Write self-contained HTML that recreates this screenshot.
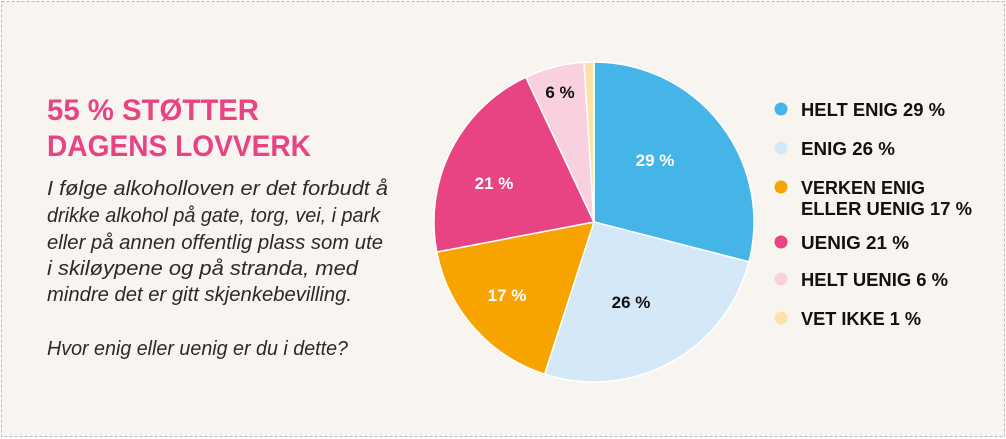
<!DOCTYPE html>
<html><head><meta charset="utf-8"><style>
html,body{margin:0;padding:0;background:#fff}
svg{display:block}
</style></head><body>
<svg width="1006" height="439" xmlns="http://www.w3.org/2000/svg" font-family="Liberation Sans, sans-serif">
<rect x="1.5" y="1.5" width="1003" height="435" fill="#f8f5f1" stroke="#b8b8b8" stroke-dasharray="3,2"/>
<g font-weight="bold" fill="#e84383" font-size="30">
<text x="47" y="120" textLength="212" lengthAdjust="spacingAndGlyphs">55 % STØTTER</text>
<text x="47" y="156" textLength="264" lengthAdjust="spacingAndGlyphs">DAGENS LOVVERK</text>
</g>
<g font-style="italic" fill="#2a2a2a" font-size="20">
<text x="47" y="195" textLength="341" lengthAdjust="spacingAndGlyphs">I følge alkoholloven er det forbudt å</text>
<text x="47" y="222" textLength="333" lengthAdjust="spacingAndGlyphs">drikke alkohol på gate, torg, vei, i park</text>
<text x="47" y="249" textLength="336" lengthAdjust="spacingAndGlyphs">eller på annen offentlig plass som ute</text>
<text x="47" y="275" textLength="311" lengthAdjust="spacingAndGlyphs">i skiløypene og på stranda, med</text>
<text x="47" y="301" textLength="305" lengthAdjust="spacingAndGlyphs">mindre det er gitt skjenkebevilling.</text>
<text x="47" y="355" textLength="301" lengthAdjust="spacingAndGlyphs">Hvor enig eller uenig er du i dette?</text>
</g>
<g stroke="#fff" stroke-width="1.5">
<path d="M594,222 L594,62 A160,160 0 0 1 748.97,261.8 Z" fill="#45b5e8"/>
<path d="M594,222 L748.97,261.8 A160,160 0 0 1 544.6,374.2 Z" fill="#d4e8f8"/>
<path d="M594,222 L544.6,374.2 A160,160 0 0 1 436.8,252 Z" fill="#f7a300"/>
<path d="M594,222 L436.8,252 A160,160 0 0 1 525.9,77.2 Z" fill="#e84383"/>
<path d="M594,222 L525.9,77.2 A160,160 0 0 1 584,62.3 Z" fill="#f9d0de"/>
<path d="M594,222 L584,62.3 A160,160 0 0 1 594,62 Z" fill="#fce1a8"/>
</g>
<g font-weight="bold" font-size="17" text-anchor="middle">
<text x="655" y="166" fill="#fff">29 %</text>
<text x="631" y="308" fill="#111">26 %</text>
<text x="507" y="301" fill="#fff">17 %</text>
<text x="494" y="189" fill="#fff">21 %</text>
<text x="560" y="98" fill="#111">6 %</text>
</g>
<circle cx="781" cy="109" r="6.5" fill="#45b5e8"/>
<circle cx="781" cy="148" r="6.5" fill="#d4e8f8"/>
<circle cx="781" cy="187" r="6.5" fill="#f7a300"/>
<circle cx="781" cy="242" r="6.5" fill="#e84383"/>
<circle cx="781" cy="279" r="6.5" fill="#f9d0de"/>
<circle cx="781" cy="318" r="6.5" fill="#fce1a8"/>
<g font-weight="bold" font-size="18" fill="#111">
<text x="801" y="116" textLength="144" lengthAdjust="spacingAndGlyphs">HELT ENIG 29 %</text>
<text x="801" y="155" textLength="94" lengthAdjust="spacingAndGlyphs">ENIG 26 %</text>
<text x="801" y="194" textLength="124" lengthAdjust="spacingAndGlyphs">VERKEN ENIG</text>
<text x="801" y="215" textLength="171" lengthAdjust="spacingAndGlyphs">ELLER UENIG 17 %</text>
<text x="801" y="249" textLength="108" lengthAdjust="spacingAndGlyphs">UENIG 21 %</text>
<text x="801" y="286" textLength="147" lengthAdjust="spacingAndGlyphs">HELT UENIG 6 %</text>
<text x="801" y="325" textLength="120" lengthAdjust="spacingAndGlyphs">VET IKKE 1 %</text>
</g>
</svg>
</body></html>
